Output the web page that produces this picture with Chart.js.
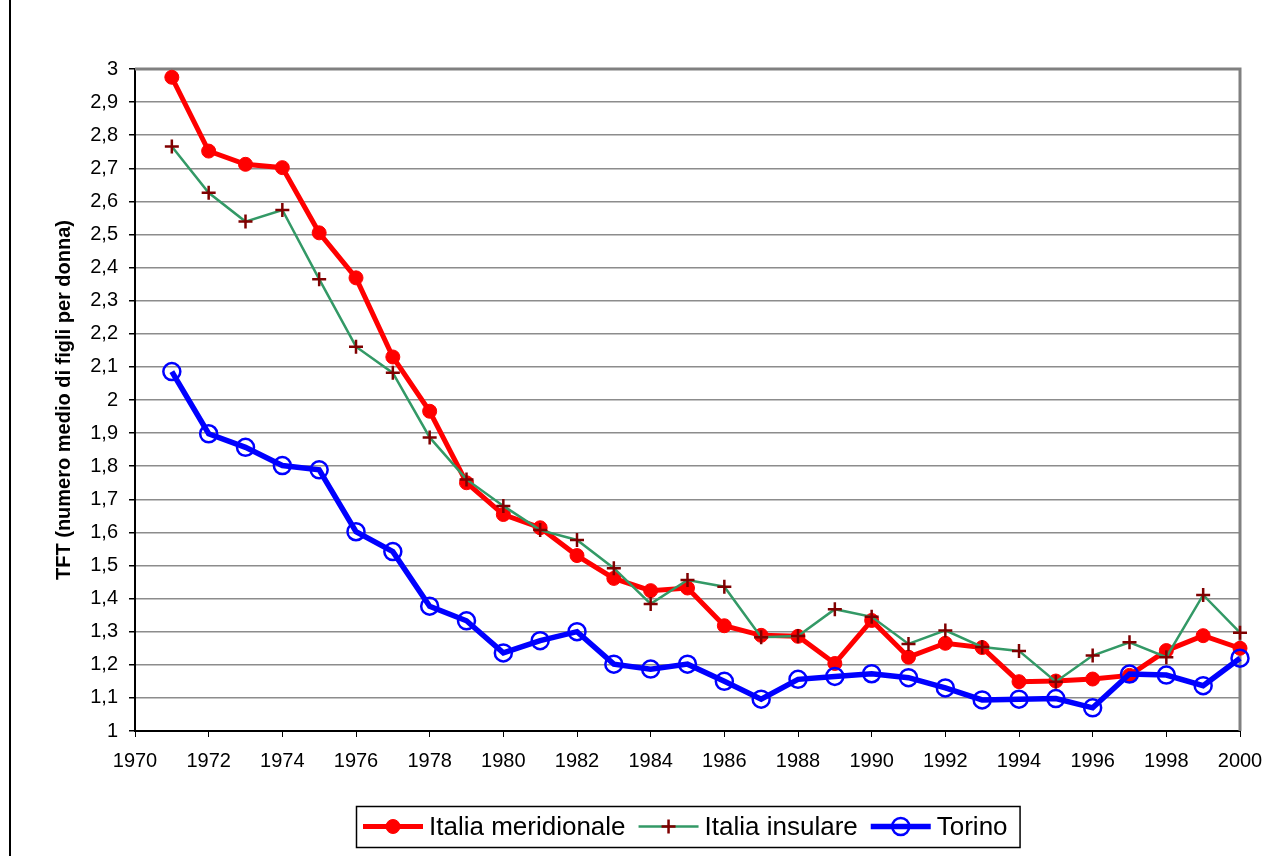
<!DOCTYPE html>
<html>
<head>
<meta charset="utf-8">
<script src="https://cdn.jsdelivr.net/npm/chart.js@4/dist/chart.umd.min.js"></script>
<style>
body { margin: 0; background: #fff; overflow: hidden; }
#wrap { position: relative; width: 1287px; height: 856px; }
#frame { position: absolute; left: 9px; top: 0; width: 0; height: 856px; border-left: 2px solid #000; }
</style>
</head>
<body>
<div id="wrap">
  <canvas id="tftChart" width="1287" height="856"></canvas>
  <div id="frame"></div>
</div>
<script>
const years = [1971, 1972, 1973, 1974, 1975, 1976, 1977, 1978, 1979, 1980,
               1981, 1982, 1983, 1984, 1985, 1986, 1987, 1988, 1989, 1990,
               1991, 1992, 1993, 1994, 1995, 1996, 1997, 1998, 1999, 2000];
const meridionale = [2.975, 2.752, 2.712, 2.702, 2.505, 2.369, 2.130, 1.966, 1.750, 1.654,
                     1.614, 1.530, 1.461, 1.424, 1.432, 1.318, 1.289, 1.286, 1.204, 1.334,
                     1.223, 1.265, 1.252, 1.149, 1.151, 1.157, 1.168, 1.243, 1.288, 1.250];
const insulare = [2.766, 2.626, 2.539, 2.574, 2.365, 2.161, 2.082, 1.887, 1.760, 1.680,
                  1.607, 1.577, 1.492, 1.384, 1.456, 1.436, 1.283, 1.287, 1.368, 1.345,
                  1.263, 1.304, 1.254, 1.242, 1.149, 1.228, 1.268, 1.223, 1.411, 1.297];
const torino = [2.086, 1.898, 1.857, 1.802, 1.789, 1.602, 1.542, 1.377, 1.333, 1.236,
                1.273, 1.300, 1.202, 1.187, 1.202, 1.150, 1.096, 1.156, 1.165, 1.173,
                1.161, 1.130, 1.094, 1.096, 1.098, 1.070, 1.172, 1.169, 1.137, 1.220];
const seriesNames = ['Italia meridionale', 'Italia insulare', 'Torino'];
const yTitle = 'TFT (numero medio di figli per donna)';
const xMin = 1970, xMax = 2000, xStep = 2;
const yMin = 1, yMax = 3, yStep = 0.1;

Chart.defaults.font.family = '"Liberation Sans", Arial, sans-serif';
Chart.defaults.color = '#000';

function toPoints(values) {
    return values.map(function (v, i) { return { x: years[i], y: v }; });
}

// grey plot frame on top and right, like the old spreadsheet chart
const plotFrame = {
    id: 'plotFrame',
    beforeDatasetsDraw(chart) {
        const a = chart.chartArea;
        const ctx = chart.ctx;
        ctx.save();
        ctx.strokeStyle = '#808080';
        ctx.lineWidth = 3;
        ctx.beginPath();
        ctx.moveTo(a.left, a.top);
        ctx.lineTo(a.right, a.top);
        ctx.lineTo(a.right, a.bottom);
        ctx.stroke();
        ctx.restore();
    }
};

// boxed legend with line + marker swatches
const boxLegend = {
    id: 'boxLegend',
    afterDraw(chart) {
        const ctx = chart.ctx;
        const a = chart.chartArea;
        ctx.save();
        ctx.font = '26px "Liberation Sans", Arial, sans-serif';
        const sets = chart.data.datasets;
        const widths = sets.map(function (ds) { return ctx.measureText(ds.label).width; });
        let total = 7;
        widths.forEach(function (w, i) { total += 60 + 6 + w + (i < widths.length - 1 ? 13 : 12); });
        const left = Math.round((a.left + a.right) / 2 - total / 2);
        const top = chart.height - 50;
        const h = 41;
        const cy = top + h / 2;
        ctx.strokeStyle = '#000';
        ctx.lineWidth = 1.5;
        ctx.strokeRect(left + 0.5, top + 0.5, total, h);
        let x = left + 7;
        sets.forEach(function (ds, i) {
            ctx.strokeStyle = ds.borderColor;
            ctx.lineWidth = ds.borderWidth;
            ctx.beginPath();
            ctx.moveTo(x, cy);
            ctx.lineTo(x + 60, cy);
            ctx.stroke();
            ctx.fillStyle = ds.pointBackgroundColor;
            ctx.strokeStyle = ds.pointBorderColor;
            ctx.lineWidth = ds.pointBorderWidth;
            Chart.helpers.drawPoint(ctx, {
                pointStyle: ds.pointStyle,
                radius: ds.pointRadius,
                borderWidth: ds.pointBorderWidth,
                rotation: 0
            }, x + 30, cy);
            ctx.fillStyle = '#000';
            ctx.textBaseline = 'middle';
            ctx.textAlign = 'left';
            ctx.fillText(ds.label, x + 66, cy + 1);
            x += 66 + widths[i] + 13;
        });
        ctx.restore();
    }
};

const ctx = document.getElementById('tftChart');
const tftChart = new Chart(ctx, {
    type: 'line',
    data: {
        datasets: [{
            label: seriesNames[0],
            data: toPoints(meridionale),
            borderColor: '#FF0000',
            borderWidth: 5,
            pointStyle: 'circle',
            pointRadius: 7,
            pointBackgroundColor: '#FF0000',
            pointBorderColor: '#FF0000',
            pointBorderWidth: 1,
            clip: false,
            order: 3
        }, {
            label: seriesNames[1],
            data: toPoints(insulare),
            borderColor: '#339966',
            borderWidth: 2.5,
            pointStyle: 'cross',
            pointRadius: 7,
            pointBackgroundColor: '#800000',
            pointBorderColor: '#800000',
            pointBorderWidth: 2.5,
            clip: false,
            order: 2
        }, {
            label: seriesNames[2],
            data: toPoints(torino),
            borderColor: '#0000FF',
            borderWidth: 5.5,
            pointStyle: 'circle',
            pointRadius: 8.5,
            pointBackgroundColor: 'rgba(0,0,0,0)',
            pointBorderColor: '#0000FF',
            pointBorderWidth: 2.5,
            clip: false,
            order: 1
        }]
    },
    options: {
        responsive: false,
        animation: false,
        layout: {
            padding: { left: 20, right: 47, top: 69, bottom: 75 }
        },
        scales: {
            x: {
                type: 'linear',
                min: xMin,
                max: xMax,
                afterFit: function (scale) { scale.height = 50; },
                grid: {
                    drawOnChartArea: false,
                    tickColor: '#000',
                    tickLength: 6
                },
                border: { color: '#000', width: 2 },
                ticks: {
                    stepSize: xStep,
                    autoSkip: false,
                    maxRotation: 0,
                    padding: 12,
                    font: { size: 20 },
                    callback: function (v) { return String(v); }
                }
            },
            y: {
                min: yMin,
                max: yMax,
                afterFit: function (scale) { scale.width = 115; },
                grid: {
                    color: '#8c8c8c',
                    lineWidth: 1.5,
                    tickColor: '#000',
                    tickLength: 6
                },
                border: { color: '#000', width: 2 },
                title: {
                    display: true,
                    text: yTitle,
                    font: { size: 20, weight: 'bold' },
                    padding: { top: 32, bottom: 0 }
                },
                ticks: {
                    stepSize: yStep,
                    autoSkip: false,
                    padding: 11,
                    font: { size: 20 },
                    callback: function (v) {
                        const r = Math.round(v * 10) / 10;
                        return String(r).replace('.', ',');
                    }
                }
            }
        },
        plugins: {
            legend: { display: false },
            tooltip: { enabled: false }
        }
    },
    plugins: [plotFrame, boxLegend]
});
</script>
</body>
</html>
